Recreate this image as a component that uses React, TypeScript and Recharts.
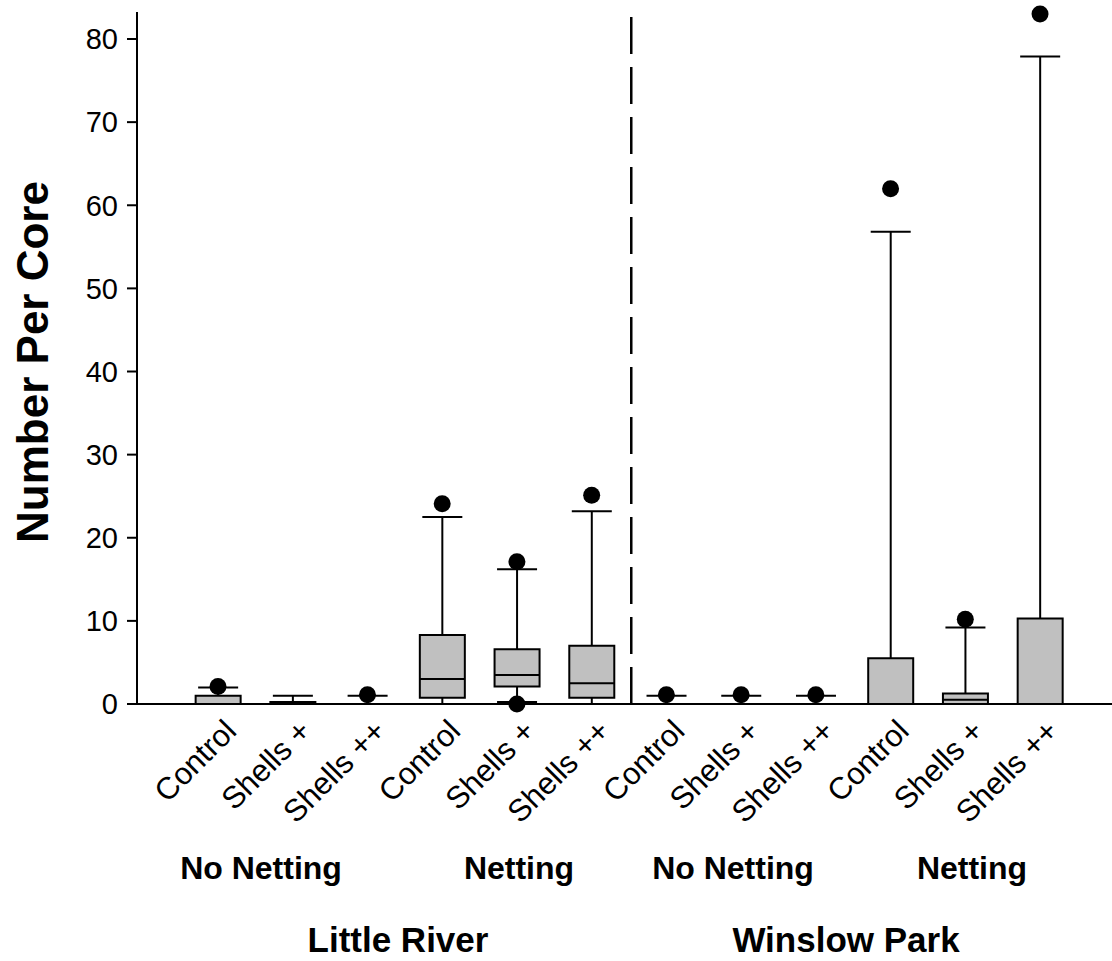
import React from 'react';
import { ComposedChart, Bar, Scatter, XAxis, YAxis, ReferenceLine } from 'recharts';

// box plot values, one entry per treatment column
const treatments = ['Control', 'Shells +', 'Shells ++', 'Control', 'Shells +', 'Shells ++', 'Control', 'Shells +', 'Shells ++', 'Control', 'Shells +', 'Shells ++'];
const whiskerLow = [0, 0, 0, 0, 0.25, 0, 0, 0, 0, 0, 0, 0];
const quart1 = [0, 0, 0, 0.75, 2.1, 0.75, 0, 0, 0, 0, 0, 0];
const medians = [0, 0, 0, 3, 3.5, 2.5, 0, 0, 0, 0, 0.5, 0];
const quart3 = [1, 0.25, 0, 8.3, 6.6, 7, 0, 0, 0, 5.5, 1.25, 10.3];
const whiskerHigh = [2, 1, 1, 22.5, 16.2, 23.2, 1, 1, 1, 56.8, 9.2, 77.9];
const outliers = [[2.1], [], [1.1], [24.1], [17.1, 0], [25.1], [1.1], [1.1], [1.1], [62], [10.2], [83]];

const yTicks = [0, 10, 20, 30, 40, 50, 60, 70, 80];
const nettingLabels = ['No Netting', 'Netting', 'No Netting', 'Netting'];
const siteLabels = ['Little River', 'Winslow Park'];

const FONT = '"Liberation Sans", Arial, Helvetica, sans-serif';

const boxData = treatments.map((t, i) => ({
  idx: i,
  range: [whiskerLow[i], whiskerHigh[i]],
  low: whiskerLow[i],
  q1: quart1[i],
  med: medians[i],
  q3: quart3[i],
  high: whiskerHigh[i],
}));

const outlierPoints = outliers.flatMap((vals, i) => vals.map(v => ({ idx: i, val: v })));

const BoxShape = (props: any) => {
  const { x, y, width, height, payload } = props;
  if (x == null || y == null) return null;
  const cx = x + width / 2;
  const top = Math.min(y, y + height);
  const bottom = Math.max(y, y + height);
  const { low, high, q1, med, q3 } = payload;
  // linear y scale recovered from the bar's [low, high] ends
  const py = (v: number) => bottom - ((v - low) / (high - low)) * (bottom - top);
  const bw = 22.5;
  const cw = 20;
  const yq1 = py(q1), yq3 = py(q3), ymed = py(med);
  return (
    <g>
      <line x1={cx} x2={cx} y1={yq3} y2={top} stroke="#000" strokeWidth={2} />
      <line x1={cx - cw} x2={cx + cw} y1={top} y2={top} stroke="#000" strokeWidth={2} />
      <line x1={cx} x2={cx} y1={yq1} y2={bottom} stroke="#000" strokeWidth={2} />
      <line x1={cx - cw} x2={cx + cw} y1={bottom} y2={bottom} stroke="#000" strokeWidth={2} />
      <path
        d={`M${cx - bw},${yq3} H${cx + bw} V${yq1} H${cx - bw} Z`}
        fill="#c0c0c0"
        stroke="#000"
        strokeWidth={2}
      />
      {med > q1 && med < q3 && (
        <line x1={cx - bw} x2={cx + bw} y1={ymed} y2={ymed} stroke="#000" strokeWidth={2} />
      )}
    </g>
  );
};

const Dot = (props: any) => {
  const { cx, cy } = props;
  if (cx == null || cy == null) return null;
  return <circle cx={cx} cy={cy} r={8.5} fill="#000" />;
};

const TreatmentTick = (props: any) => {
  const { x, y, payload } = props;
  return (
    <text
      transform={`translate(${x + 20}, ${y + 21}) rotate(-45)`}
      textAnchor="end"
      fontSize={31}
      fontFamily={FONT}
      fill="#000"
    >
      {treatments[payload.value]}
    </text>
  );
};

export default function App() {
  return (
    <div style={{ position: 'absolute', left: 0, top: 0, width: 1112, height: 961, background: '#fff' }}>
      <ComposedChart
        width={1112}
        height={961}
        data={boxData}
        margin={{ top: 12, right: 0, bottom: 137, left: 0 }}
      >
        <XAxis
          type="number"
          dataKey="idx"
          domain={[-1.084, 11.963]}
          ticks={treatments.map((_, i) => i)}
          interval={0}
          tickLine={false}
          axisLine={{ stroke: '#000', strokeWidth: 2 }}
          tick={<TreatmentTick />}
          height={120}
        />
        <YAxis
          type="number"
          domain={[0, 83.25]}
          ticks={yTicks}
          interval={0}
          width={137}
          tickSize={10}
          tickMargin={9}
          tickLine={{ stroke: '#000', strokeWidth: 2 }}
          axisLine={{ stroke: '#000', strokeWidth: 2 }}
          tick={{ fill: '#000', fontSize: 29, fontFamily: FONT }}
        />
        <ReferenceLine x={5.53} stroke="#000" strokeWidth={2.5} strokeDasharray="37 13" />
        <Bar dataKey="range" barSize={45} shape={<BoxShape />} isAnimationActive={false} />
        <Scatter data={outlierPoints} dataKey="val" shape={<Dot />} isAnimationActive={false} />
      </ComposedChart>
      <svg
        width={1112}
        height={961}
        style={{ position: 'absolute', left: 0, top: 0, pointerEvents: 'none' }}
      >
        <text
          transform="translate(48, 362) rotate(-90)"
          textAnchor="middle"
          fontSize={44}
          fontWeight="bold"
          fontFamily={FONT}
          fill="#000"
        >
          Number Per Core
        </text>
        {nettingLabels.map((t, i) => (
          <text
            key={i}
            x={[261, 519, 733, 972][i]}
            y={879}
            textAnchor="middle"
            fontSize={32}
            fontWeight="bold"
            fontFamily={FONT}
            fill="#000"
          >
            {t}
          </text>
        ))}
        {siteLabels.map((t, i) => (
          <text
            key={i}
            x={[398, 846][i]}
            y={952}
            textAnchor="middle"
            fontSize={35}
            fontWeight="bold"
            fontFamily={FONT}
            fill="#000"
          >
            {t}
          </text>
        ))}
      </svg>
    </div>
  );
}
